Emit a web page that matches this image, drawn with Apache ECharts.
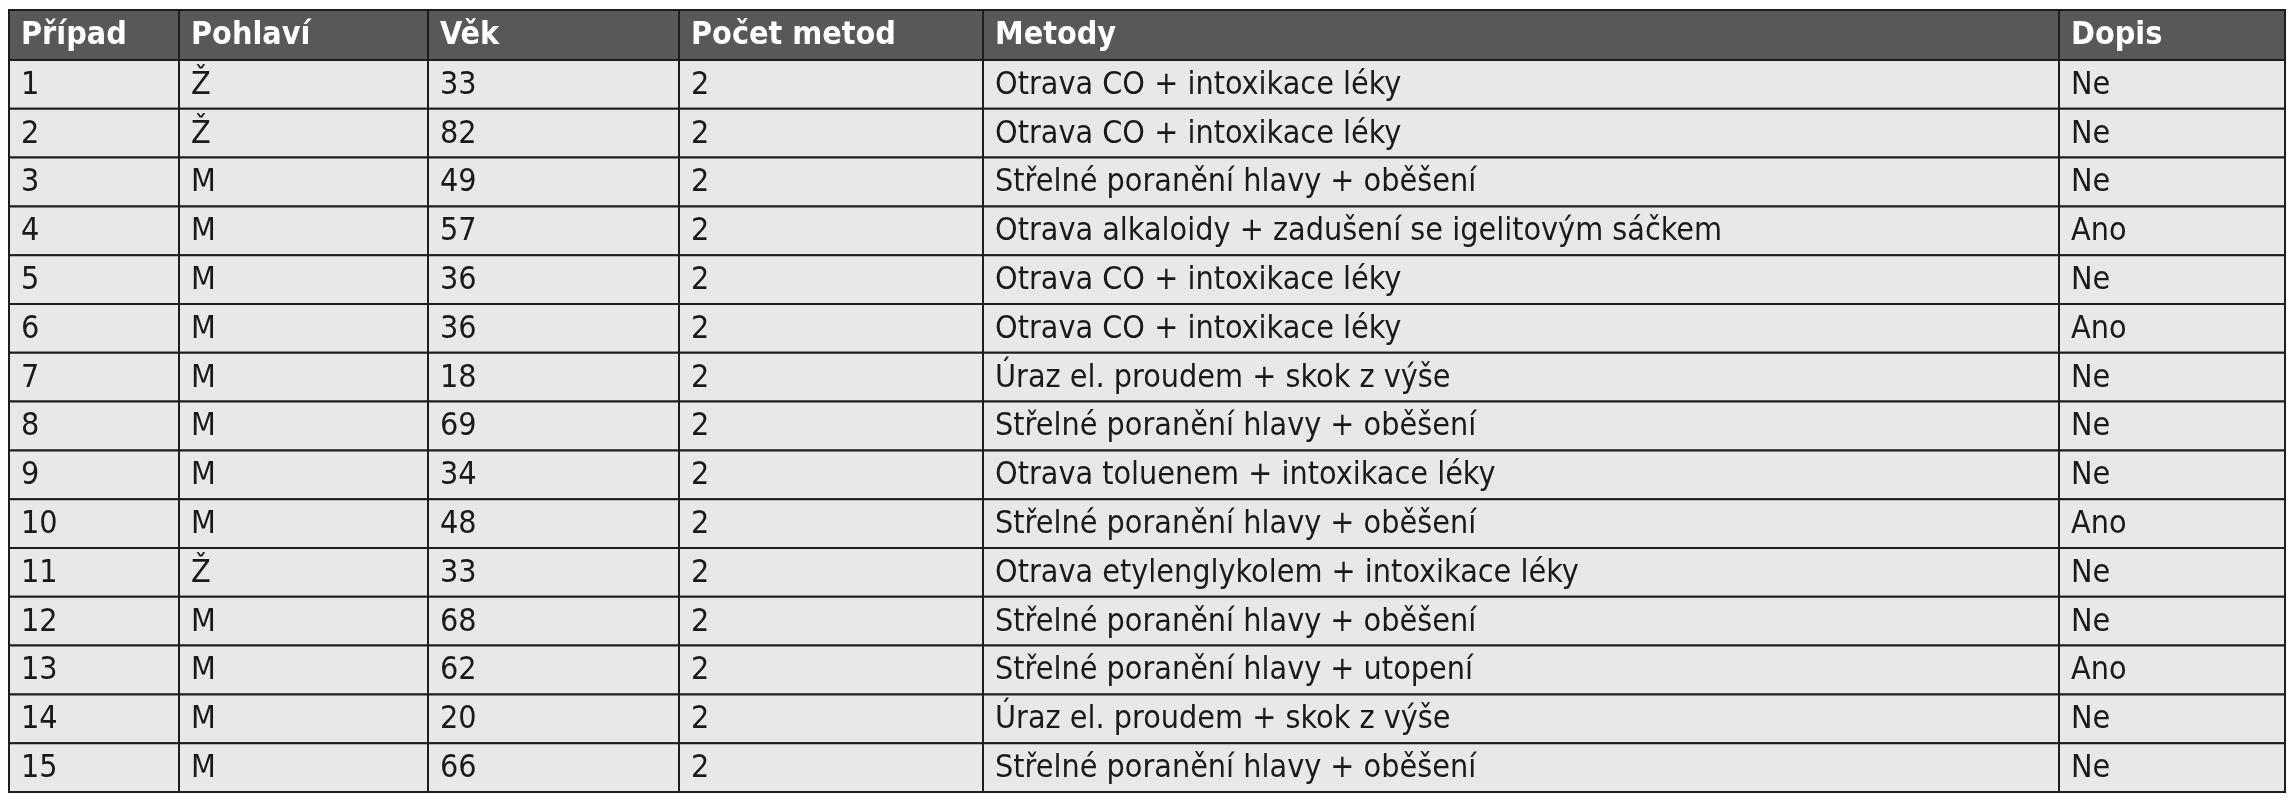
<!DOCTYPE html>
<html><head><meta charset="utf-8">
<script src="https://cdn.jsdelivr.net/npm/echarts@6/dist/echarts.min.js"></script>
<style>html,body{margin:0;padding:0;background:#fff}#c{width:2295px;height:800px}</style>
</head><body><div id="c"></div>
<script>
const headers = ["Případ","Pohlaví","Věk","Počet metod","Metody","Dopis"];
const cases = ["1","2","3","4","5","6","7","8","9","10","11","12","13","14","15"];
const sex = ["Ž","Ž","M","M","M","M","M","M","M","M","Ž","M","M","M","M"];
const age = [33,82,49,57,36,36,18,69,34,48,33,68,62,20,66];
const methodCount = [2,2,2,2,2,2,2,2,2,2,2,2,2,2,2];
const methods = [
 "Otrava CO + intoxikace léky","Otrava CO + intoxikace léky","Střelné poranění hlavy + oběšení",
 "Otrava alkaloidy + zadušení se igelitovým sáčkem","Otrava CO + intoxikace léky","Otrava CO + intoxikace léky",
 "Úraz el. proudem + skok z výše","Střelné poranění hlavy + oběšení","Otrava toluenem + intoxikace léky",
 "Střelné poranění hlavy + oběšení","Otrava etylenglykolem + intoxikace léky","Střelné poranění hlavy + oběšení",
 "Střelné poranění hlavy + utopení","Úraz el. proudem + skok z výše","Střelné poranění hlavy + oběšení"];
const letter = ["Ne","Ne","Ne","Ano","Ne","Ano","Ne","Ne","Ne","Ano","Ne","Ne","Ano","Ne","Ne"];

// layout (pixel-space axis)
const colEdges = [9,179,428,679,983,2059,2285];
const top0 = 10, headH = 50, rowH = 48.8;

const cells = [];
headers.forEach((h,c)=>cells.push([c,-1,h]));
const cols = [cases,sex,age,methodCount,methods,letter];
for (let r=0;r<cases.length;r++) cols.forEach((arr,c)=>cells.push([c,r,String(arr[r])]));

function rowTop(r){return r<0?top0:top0+headH+r*rowH;}
function rowBot(r){return r<0?top0+headH:top0+headH+(r+1)*rowH;}

const chart = echarts.init(document.getElementById('c'));
chart.setOption({
  animation:false,
  grid:{left:0,right:0,top:0,bottom:0},
  xAxis:{type:'value',min:0,max:2295,show:false},
  yAxis:{type:'value',min:0,max:800,inverse:true,show:false},
  series:[{
    type:'custom',
    data:cells,
    renderItem:function(params,api){
      const c=api.value(0), r=api.value(1);
      const text=cells[params.dataIndex][2];
      const p1=api.coord([colEdges[c],rowTop(r)]);
      const p2=api.coord([colEdges[c+1],rowBot(r)]);
      const head=r<0;
      return {type:'group',children:[
        {type:'rect',shape:{x:p1[0],y:p1[1],width:p2[0]-p1[0],height:p2[1]-p1[1]},
         style:{fill:head?'#58585a':'#e8e8e8',stroke:'#1e1e1e',lineWidth:2}},
        {type:'text',style:{text:text,x:p1[0]+12,y:(p1[1]+p2[1])/2+1,
          textVerticalAlign:'middle',verticalAlign:'middle',
          font:(head?'bold ':'')+'32px "DejaVu Sans Condensed","DejaVu Sans",sans-serif',
          fill:head?'#ffffff':'#1a1a1a'}}
      ]};
    }
  }]
});
</script></body></html>
